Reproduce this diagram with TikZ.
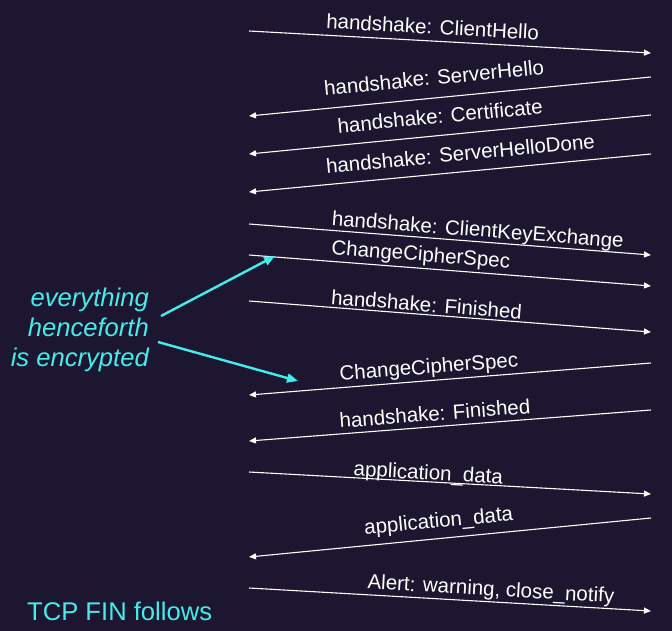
\documentclass[tikz,border=0pt]{standalone}
\usepackage{fontspec}
\setmainfont{Liberation Sans}
\usetikzlibrary{arrows.meta}
\definecolor{bg}{RGB}{28,22,48}
\definecolor{cy}{RGB}{68,236,236}
\begin{document}
\begin{tikzpicture}[x=1pt,y=-1pt,
  msg/.style={draw=white, line width=1.1pt, -{Triangle[length=7pt,width=6pt]}},
  lbl/.style={sloped, anchor=south, inner sep=0pt, text=white, text depth=0pt,
    font=\fontsize{20.5}{24}\selectfont},
  note/.style={text=cy, inner sep=0pt, font=\fontsize{25.6}{30}\selectfont},
  hint/.style={draw=cy, line width=2.4pt, -{Triangle[length=11pt,width=9pt]}}]
\fill[bg] (0,0) rectangle (672,631);
\useasboundingbox (0,0) rectangle (672,631);
% client side (left) and server side (right) end points
\coordinate (c1) at (249,31);   \coordinate (s1) at (651,53);
\coordinate (s2) at (651,77);   \coordinate (c2) at (249,116);
\coordinate (s3) at (651,115);  \coordinate (c3) at (249,154);
\coordinate (s4) at (651,154);  \coordinate (c4) at (249,192);
\coordinate (c5) at (249,224);  \coordinate (s5) at (651,255);
\coordinate (c6) at (249,255);  \coordinate (s6) at (651,286);
\coordinate (c7) at (249,301);  \coordinate (s7) at (651,332);
\coordinate (s8) at (651,363);  \coordinate (c8) at (249,395);
\coordinate (s9) at (651,410);  \coordinate (c9) at (249,441);
\coordinate (c10) at (249,472); \coordinate (s10) at (651,494);
\coordinate (s11) at (651,518); \coordinate (c11) at (249,557);
\coordinate (c12) at (249,588); \coordinate (s12) at (651,611);

\draw[msg] (c1) -- node[lbl, pos=0.455, outer ysep=7pt]{handshake: ClientHello} (s1);
\draw[msg] (s2) -- node[lbl, pos=0.535, outer ysep=13pt]{handshake: ServerHello} (c2);
\draw[msg] (s3) -- node[lbl, pos=0.52, outer ysep=12pt]{handshake: Certificate} (c3);
\draw[msg] (s4) -- node[lbl, pos=0.47, outer ysep=11pt]{handshake: ServerHelloDone} (c4);
\draw[msg] (c5) -- node[lbl, pos=0.567, outer ysep=5pt]{handshake: ClientKeyExchange} (s5);
\draw[msg] (c6) -- node[lbl, pos=0.425, outer ysep=7pt]{ChangeCipherSpec} (s6);
\draw[msg] (c7) -- node[lbl, pos=0.44, outer ysep=3pt]{handshake: Finished} (s7);
\draw[msg] (s8) -- node[lbl, pos=0.55, outer ysep=7pt]{ChangeCipherSpec} (c8);
\draw[msg] (s9) -- node[lbl, pos=0.535, outer ysep=6pt]{handshake: Finished} (c9);
\draw[msg] (c10) -- node[lbl, pos=0.445, outer ysep=2pt]{application\_data} (s10);
\draw[msg] (s11) -- node[lbl, pos=0.524, outer ysep=11pt]{application\_data} (c11);
\draw[msg] (c12) -- node[lbl, pos=0.6, outer ysep=6pt]{Alert: warning, close\_notify} (s12);

\node[note, anchor=east, align=right, font=\fontsize{25.6}{30}\selectfont\itshape] (enc) at (149,330)
  {everything\\henceforth\\is encrypted};
\coordinate (h1s) at (161,316); \coordinate (h1e) at (275,256);
\coordinate (h2s) at (158,342); \coordinate (h2e) at (298,381);
\draw[hint] (h1s) -- (h1e);
\draw[hint] (h2s) -- (h2e);

\node[note, anchor=base west] (fin) at (27,620) {TCP FIN follows};
\end{tikzpicture}
\end{document}
